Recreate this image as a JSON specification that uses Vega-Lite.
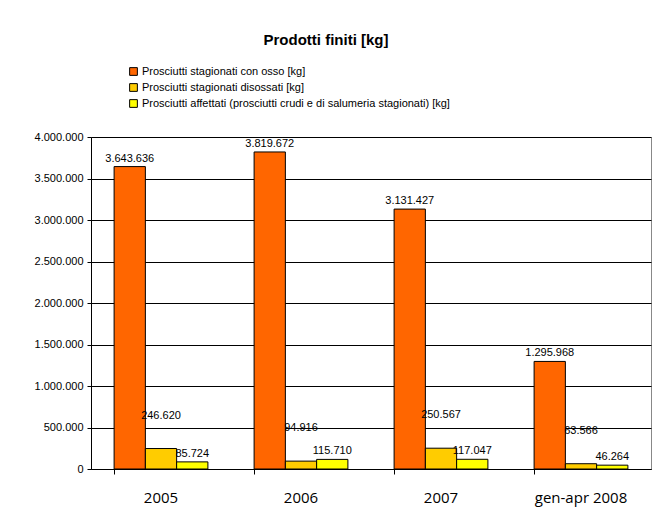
{
  "$schema": "https://vega.github.io/schema/vega-lite/v6.json",
  "width": 560,
  "height": 332,
  "autosize": "none",
  "padding": {"left": 91, "top": 137, "right": 2, "bottom": 49},
  "background": "white",
  "config": {
    "locale": {"number": {"decimal": ",", "thousands": ".", "grouping": [3], "currency": ["€", ""]}},
    "view": {"stroke": "#888888", "strokeWidth": 1},
    "font": "Liberation Sans"
  },
  "title": {
    "text": "Prodotti finiti [kg]",
    "font": "Liberation Sans",
    "fontSize": 15,
    "fontWeight": "bold",
    "color": "black",
    "anchor": "middle",
    "dx": -45,
    "offset": 18
  },
  "data": {
    "values": [
      {"periodo": "2005", "serie": "Prosciutti stagionati con osso [kg]", "kg": 3643636},
      {"periodo": "2005", "serie": "Prosciutti stagionati disossati [kg]", "kg": 246620},
      {"periodo": "2005", "serie": "Prosciutti affettati (prosciutti crudi e di salumeria stagionati) [kg]", "kg": 85724},
      {"periodo": "2006", "serie": "Prosciutti stagionati con osso [kg]", "kg": 3819672},
      {"periodo": "2006", "serie": "Prosciutti stagionati disossati [kg]", "kg": 94916},
      {"periodo": "2006", "serie": "Prosciutti affettati (prosciutti crudi e di salumeria stagionati) [kg]", "kg": 115710},
      {"periodo": "2007", "serie": "Prosciutti stagionati con osso [kg]", "kg": 3131427},
      {"periodo": "2007", "serie": "Prosciutti stagionati disossati [kg]", "kg": 250567},
      {"periodo": "2007", "serie": "Prosciutti affettati (prosciutti crudi e di salumeria stagionati) [kg]", "kg": 117047},
      {"periodo": "gen-apr 2008", "serie": "Prosciutti stagionati con osso [kg]", "kg": 1295968},
      {"periodo": "gen-apr 2008", "serie": "Prosciutti stagionati disossati [kg]", "kg": 63566},
      {"periodo": "gen-apr 2008", "serie": "Prosciutti affettati (prosciutti crudi e di salumeria stagionati) [kg]", "kg": 46264}
    ]
  },
  "encoding": {
    "x": {
      "field": "periodo",
      "type": "nominal",
      "sort": null,
      "scale": {"paddingInner": 0.33, "paddingOuter": 0.165},
      "axis": {
        "title": null,
        "labelAngle": 0,
        "labelFont": "Open Sans",
        "labelFontSize": 15,
        "labelFontWeight": "normal",
        "labelColor": "black",
        "labelPadding": 16,
        "bandPosition": 0,
        "tickSize": 5,
        "tickColor": "black",
        "domainColor": "black",
        "grid": false
      }
    },
    "xOffset": {
      "field": "serie",
      "type": "nominal",
      "sort": null,
      "scale": {"domain": [
        "Prosciutti stagionati con osso [kg]",
        "Prosciutti stagionati disossati [kg]",
        "Prosciutti affettati (prosciutti crudi e di salumeria stagionati) [kg]"
      ], "paddingInner": 0, "paddingOuter": 0}
    },
    "y": {
      "field": "kg",
      "type": "quantitative",
      "scale": {"domain": [0, 4000000], "nice": false},
      "axis": {
        "title": null,
        "values": [0, 500000, 1000000, 1500000, 2000000, 2500000, 3000000, 3500000, 4000000],
        "format": ",d",
        "labelFont": "Liberation Sans",
        "labelFontSize": 11,
        "labelColor": "black",
        "labelPadding": 4,
        "tickSize": 4,
        "tickColor": "black",
        "domainColor": "black",
        "gridColor": "black",
        "gridOpacity": 1
      }
    }
  },
  "layer": [
    {
      "mark": {"type": "bar", "stroke": "black", "strokeWidth": 1},
      "encoding": {
        "color": {
          "field": "serie",
          "type": "nominal",
          "scale": {
            "domain": [
              "Prosciutti stagionati con osso [kg]",
              "Prosciutti stagionati disossati [kg]",
              "Prosciutti affettati (prosciutti crudi e di salumeria stagionati) [kg]"
            ],
            "range": ["#FF6600", "#FFCC00", "#FFFF00"]
          },
          "legend": {
            "title": null,
            "orient": "none",
            "legendX": 37,
            "legendY": -71,
            "symbolType": "square",
            "symbolSize": 60,
            "symbolStrokeColor": "black",
            "symbolStrokeWidth": 1,
            "labelFont": "Liberation Sans",
            "labelFontSize": 11,
            "labelColor": "black",
            "labelLimit": 500,
            "rowPadding": 3,
            "labelOffset": 3
          }
        }
      }
    },
    {
      "transform": [{"filter": "datum.serie !== 'Prosciutti stagionati disossati [kg]'"}],
      "mark": {"type": "text", "baseline": "bottom", "dy": -3, "fontSize": 11, "font": "Liberation Sans", "color": "black"},
      "encoding": {
        "text": {"field": "kg", "type": "quantitative", "format": ",d"}
      }
    },
    {
      "transform": [{"filter": "datum.serie === 'Prosciutti stagionati disossati [kg]'"}],
      "mark": {"type": "text", "baseline": "bottom", "dy": -28, "fontSize": 11, "font": "Liberation Sans", "color": "black"},
      "encoding": {
        "text": {"field": "kg", "type": "quantitative", "format": ",d"}
      }
    }
  ]
}
